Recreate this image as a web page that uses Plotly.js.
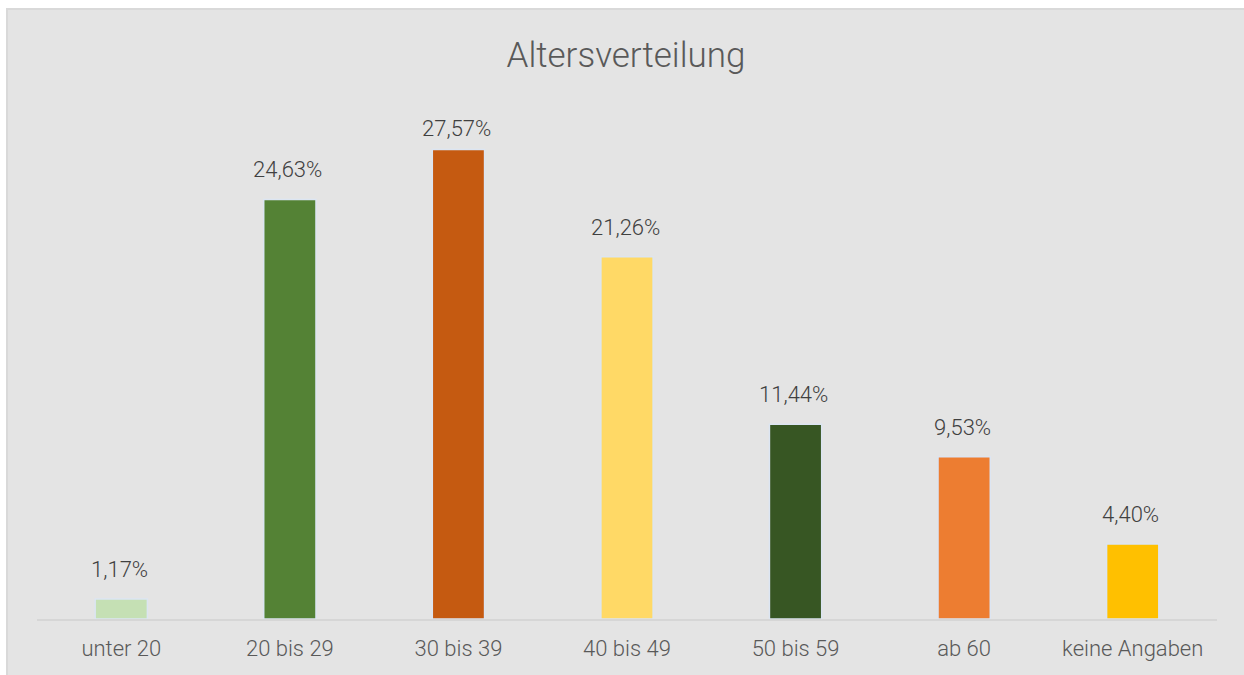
<!DOCTYPE html>
<html>
<head>
<meta charset="utf-8">
<script src="https://cdn.plot.ly/plotly-3.0.1.min.js"></script>
<style>
html, body { margin: 0; padding: 0; background: #ffffff; width: 1244px; height: 675px; overflow: hidden; }
#frame { position: absolute; left: 6px; top: 8px; width: 1238px; height: 667px; border-left: 2px solid #d9d9d9; border-top: 2px solid #d9d9d9; box-sizing: border-box; background: #e4e4e4; }
#chart { position: absolute; left: 0; top: 0; width: 1236px; height: 665px; }
</style>
</head>
<body>
<div id="frame"><div id="chart"></div></div>
<script>
const categories = ["unter 20", "20 bis 29", "30 bis 39", "40 bis 49", "50 bis 59", "ab 60", "keine Angaben"];
const values = [1.17, 24.63, 27.57, 21.26, 11.44, 9.53, 4.40];
const colors = ["#c5e0b4", "#548235", "#c55a11", "#ffd966", "#375623", "#ed7d31", "#ffc000"];

function fmt(v) { return v.toFixed(2).replace('.', ',') + '%'; }

const Y_MAX = 30;
const PLOT_H = 665 - 98 - 56;
const PX = PLOT_H / Y_MAX;            // pixels per percentage point
const LABEL_OFFSET = 29.5 / PX;       // label centre above bar top
const LABEL_CAP = Y_MAX - 20 / PX;    // labels are kept inside the plot area

const trace = {
  type: 'bar',
  x: categories,
  y: values,
  marker: { color: colors, line: { color: '#dce5f2', width: 1.5 } },
  hoverinfo: 'none'
};

const annotations = categories.map((c, i) => ({
  x: c, y: Math.min(values[i] + LABEL_OFFSET, LABEL_CAP), xref: 'x', yref: 'y',
  text: fmt(values[i]), showarrow: false,
  yanchor: 'middle', xshift: -2,
  font: { family: 'Roboto, sans-serif', size: 22, color: '#404040', weight: 300 }
}));

const layout = {
  width: 1236, height: 665,
  margin: { l: 29, r: 27, t: 98, b: 56 },
  paper_bgcolor: 'rgba(0,0,0,0)',
  plot_bgcolor: 'rgba(0,0,0,0)',
  bargap: 0.69,
  showlegend: false,
  title: {
    text: 'Altersverteilung',
    font: { family: 'Roboto, sans-serif', size: 35, color: '#595959', weight: 300 },
    x: 0.5, xanchor: 'center', xref: 'container',
    y: 1 - 45 / 665, yanchor: 'middle', yref: 'container'
  },
  xaxis: {
    type: 'category',
    showgrid: false, zeroline: false,
    showline: true, linecolor: '#d6d6d6', linewidth: 2,
    ticks: 'outside', ticklen: 9, tickcolor: 'rgba(0,0,0,0)',
    tickfont: { family: 'Roboto, sans-serif', size: 22, color: '#595959', weight: 300 }
  },
  yaxis: {
    range: [0, Y_MAX], visible: false, showgrid: false, zeroline: false, fixedrange: true
  },
  annotations: annotations
};

Plotly.newPlot('chart', [trace], layout, { staticPlot: true, displayModeBar: false });
</script>
</body>
</html>
